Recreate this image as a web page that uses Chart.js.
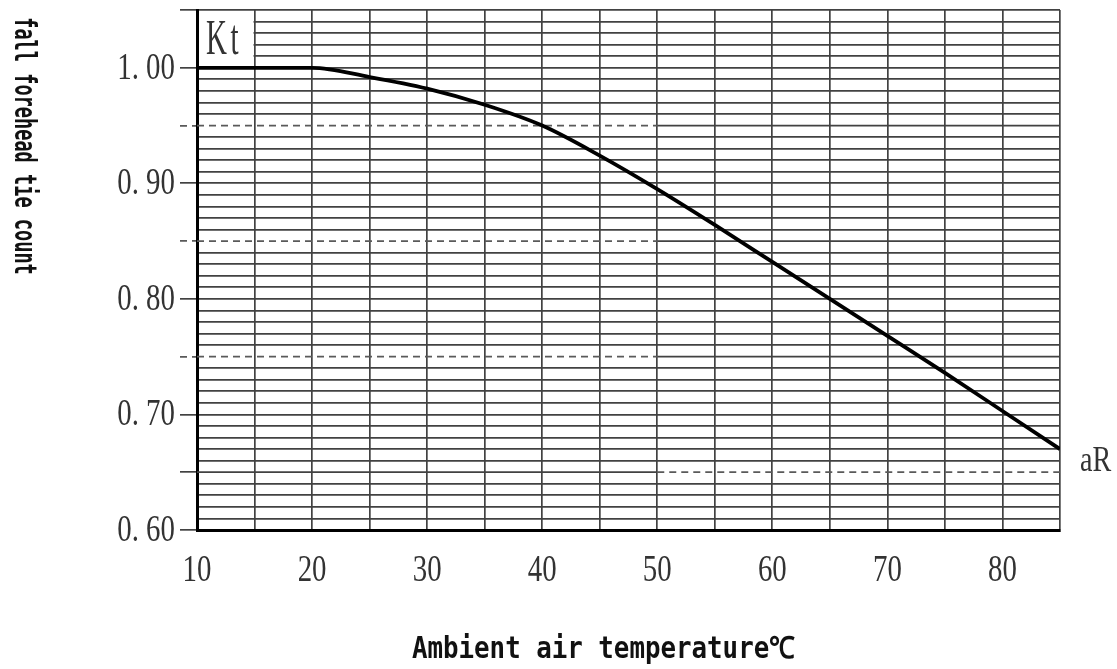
<!DOCTYPE html>
<html>
<head>
<meta charset="utf-8">
<script src="https://cdn.jsdelivr.net/npm/chart.js@4.4.1/dist/chart.umd.min.js"></script>
<style>
    body { margin: 0; background: #fff; }
    #wrap { width: 1117px; height: 669px; }
</style>
</head>
<body>
<div id="wrap"><canvas id="chart" width="1117" height="669"></canvas></div>
<script>
// ambient temperature (deg C) and the Kt factor
const temps = [10, 15, 20, 25, 30, 35, 40, 45, 50, 55, 60, 65, 70, 75, 80, 85];
const ktValues = [1.00, 1.00, 1.00, 0.992, 0.982, 0.968, 0.950, 0.924, 0.895, 0.864, 0.832, 0.800, 0.768, 0.736, 0.703, 0.670];

// tick labels
const xLabels = [10, 20, 30, 40, 50, 60, 70, 80];
const yLabels = [0.60, 0.70, 0.80, 0.90, 1.00];

// dashed guide levels: left ones run from the axis to 50C, right ones from 50C to the end
const leftDashLevels = [0.95, 0.85, 0.75];
const rightDashLevels = [0.65];
const splitTemp = 50;

const xMin = 10, xMax = 85, yMin = 0.6, yMax = 1.05;

const gridColor = '#424242';
const gridWidth = 1.7;
const dashColor = '#5a5a5a';
const dash = [7, 5];
const labelColor = '#333';

function pct(v) {
    return Math.round(v * 100);
}

function isGuide(v) {
    let p = pct(v);
    return leftDashLevels.some(l => pct(l) === p) || rightDashLevels.some(l => pct(l) === p);
}

// build the guide line datasets (dashed part + plain grid part)
function guideSets() {
    let sets = [];
    let seg = (a, b, y, dashed) => ({
        data: [{x: a, y: y}, {x: b, y: y}],
        borderColor: dashed ? dashColor : gridColor,
        borderWidth: gridWidth,
        borderDash: dashed ? dash : [],
        pointRadius: 0,
        order: 5
    });
    leftDashLevels.forEach(l => {
        sets.push(seg(xMin, splitTemp, l, true));
        sets.push(seg(splitTemp, xMax, l, false));
    });
    rightDashLevels.forEach(l => {
        sets.push(seg(xMin, splitTemp, l, false));
        sets.push(seg(splitTemp, xMax, l, true));
    });
    return sets;
}

// draw text squeezed horizontally (the original uses a narrow font)
function squeeze(ctx, text, x, y, sx, align) {
    ctx.save();
    ctx.translate(x, y);
    ctx.scale(sx, 1);
    ctx.textAlign = align;
    ctx.fillText(text, 0, 0);
    ctx.restore();
}

const labelPlugin = {
    id: 'labels',
    beforeDatasetsDraw(chart) {
        // white "Kt" box in the top-left cell
        let ctx = chart.ctx;
        let xs = chart.scales.x, ys = chart.scales.y;
        let a = chart.chartArea;
        let x15 = xs.getPixelForValue(15);
        let y1 = ys.getPixelForValue(1.0);
        ctx.save();
        ctx.fillStyle = '#fff';
        ctx.fillRect(a.left + 2, a.top + 1, x15 - a.left - 3, y1 - a.top - 1);
        ctx.fillStyle = labelColor;
        ctx.font = '50px "Liberation Serif"';
        ctx.textBaseline = 'alphabetic';
        ctx.letterSpacing = '6px';
        squeeze(ctx, 'Kt', a.left + 9, y1 - 14, 0.58, 'left');
        ctx.restore();
    },
    afterDraw(chart) {
        let ctx = chart.ctx;
        let xs = chart.scales.x, ys = chart.scales.y;
        let a = chart.chartArea;
        ctx.save();
        ctx.fillStyle = labelColor;
        ctx.font = '38px "Liberation Serif"';
        ctx.textBaseline = 'middle';

        yLabels.forEach(v => {
            let txt = v.toFixed(2).replace('.', '. ');
            squeeze(ctx, txt, a.left - 22, ys.getPixelForValue(v) + 1, 0.76, 'right');
        });
        xLabels.forEach(v => {
            squeeze(ctx, String(v), xs.getPixelForValue(v), a.bottom + 41, 0.76, 'center');
        });

        // curve end label
        ctx.font = '36px "Liberation Serif"';
        ctx.textBaseline = 'alphabetic';
        let last = ktValues[ktValues.length - 1];
        squeeze(ctx, 'aR', a.right + 20, ys.getPixelForValue(last) + 22, 0.78, 'left');

        // axis titles
        ctx.fillStyle = '#111';
        ctx.textBaseline = 'middle';
        ctx.font = 'bold 30px "DejaVu Sans Mono"';
        squeeze(ctx, 'Ambient air temperature\u2103', a.left + (a.right - a.left) * 0.471, a.bottom + 120, 0.86, 'center');

        ctx.save();
        ctx.translate(23, 146);
        ctx.rotate(Math.PI / 2);
        ctx.font = 'bold 31px "DejaVu Sans Mono"';
        squeeze(ctx, 'fall forehead tie count', 0, 0, 0.6, 'center');
        ctx.restore();

        ctx.restore();
    }
};

const curve = {
    data: temps.map((t, i) => ({x: t, y: ktValues[i]})),
    borderColor: '#000',
    borderWidth: 3.8,
    pointRadius: 0,
    cubicInterpolationMode: 'monotone',
    order: 0
};

new Chart(document.getElementById('chart').getContext('2d'), {
    type: 'line',
    data: {
        datasets: [curve].concat(guideSets())
    },
    options: {
        responsive: false,
        animation: false,
        layout: {
            padding: {top: 10, right: 57, left: 0, bottom: 0}
        },
        plugins: {
            legend: {display: false},
            tooltip: {enabled: false}
        },
        scales: {
            x: {
                type: 'linear',
                min: xMin,
                max: xMax,
                ticks: {display: false, stepSize: 5},
                grid: {color: gridColor, lineWidth: gridWidth, drawTicks: false},
                border: {color: '#000', width: 3},
                afterFit: s => { s.height = 139; }
            },
            y: {
                type: 'linear',
                min: yMin,
                max: yMax,
                ticks: {display: false, stepSize: 0.01, maxTicksLimit: 100},
                grid: {
                    color: c => isGuide(c.tick.value) ? 'rgba(0,0,0,0)' : gridColor,
                    lineWidth: gridWidth,
                    tickLength: 17,
                    tickWidth: gridWidth,
                    tickColor: c => {
                        if (pct(c.tick.value) % 5 !== 0) return 'rgba(0,0,0,0)';
                        return leftDashLevels.some(l => pct(l) === pct(c.tick.value)) ? dashColor : gridColor;
                    },
                    tickBorderDash: c => leftDashLevels.some(l => pct(l) === pct(c.tick.value)) ? dash : []
                },
                border: {color: '#000', width: 3},
                afterFit: s => { s.width = 197; }
            }
        }
    },
    plugins: [labelPlugin]
});
</script>
</body>
</html>
